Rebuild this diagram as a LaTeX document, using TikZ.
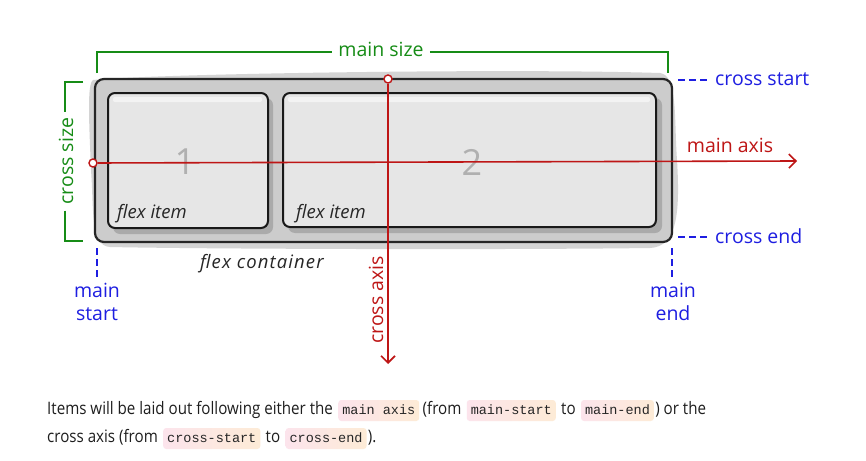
\documentclass[tikz,border=0pt]{standalone}
\usepackage{fontspec}
\setmainfont{Open Sans}
\newfontfamily\bodyfont[FakeStretch=0.88]{Open Sans}
\newfontfamily\widefont[LetterSpace=6]{Open Sans}
\newfontfamily\codefont{Liberation Mono}
\usetikzlibrary{arrows.meta,calc}
\definecolor{gr}{RGB}{22,140,22}
\definecolor{rd}{RGB}{190,22,22}
\definecolor{bl}{RGB}{30,30,225}
\definecolor{blobc}{RGB}{212,212,212}
\definecolor{contc}{RGB}{204,204,204}
\definecolor{itemc}{RGB}{230,230,230}
\definecolor{shadc}{RGB}{170,170,170}
\definecolor{numc}{RGB}{176,176,176}
\definecolor{chipA}{RGB}{252,228,236}
\definecolor{chipB}{RGB}{253,235,214}
\definecolor{txtc}{RGB}{30,30,30}
\begin{document}
\begin{tikzpicture}[x=1pt,y=-1pt,
  lbl/.style={font=\fontsize{19.5}{23}\selectfont, inner sep=1},
  ital/.style={font=\fontsize{18.5}{22}\selectfont\itshape, text=black!85, inner sep=0, anchor=base west},
  container/.style={draw=black!85, line width=2.2, fill=contc, rounded corners=9, minimum width=577, minimum height=163, inner sep=0},
  itembox/.style={draw=black!90, line width=2, fill=itemc, rounded corners=7, inner sep=0},
  numlbl/.style={font=\fontsize{36}{36}\selectfont, text=numc},
  circ/.style={circle, draw=rd, line width=1.4, fill=white, minimum size=8, inner sep=0},
  axis/.style={draw=rd, line width=1.6, -{Straight Barb[length=7,width=14,line width=1.6]}},
  bracket/.style={draw=gr, line width=1.6},
  bdash/.style={draw=bl, line width=1.5, dash pattern=on 7 off 4},
  body/.style={font=\bodyfont\fontsize{17.2}{20}\selectfont, text=txtc, inner sep=0, anchor=base west},
  chip/.style={font=\codefont\fontsize{13.5}{15}\selectfont, text=black!85, anchor=base west, inner xsep=4, inner ysep=4, text height=10, text depth=3, rounded corners=3, left color=chipA, right color=chipB}
]
\useasboundingbox[fill=white] (0,0) rectangle (866,460);

% sketchy background blob
\fill[blobc] (93,80) .. controls (150,74) and (500,68) .. (660,73)
  .. controls (678,75) and (674,120) .. (677,160)
  .. controls (680,210) and (678,247) .. (650,248)
  .. controls (500,250) and (200,249) .. (110,247)
  .. controls (90,246) and (94,210) .. (91,170)
  .. controls (89,120) and (87,84) .. (93,80) -- cycle;

% container
\node[container] (cont) at (383.5,160.5) {};

% item shadows
\fill[shadc, rounded corners=7] (113,98) rectangle (273,234);
\fill[shadc, rounded corners=7] (288,98) rectangle (662,233);

% items
\node[itembox, minimum width=160, minimum height=135] (it1) at (188,160.5) {};
\node[itembox, minimum width=373, minimum height=134] (it2) at (469.5,160) {};
\fill[white, opacity=0.55, rounded corners=2] (113,97) rectangle (262,102);
\fill[white, opacity=0.55, rounded corners=2] (288,97) rectangle (650,102);

\node[numlbl] (n1) at (185,162) {1};
\node[numlbl] (n2) at (472,162) {2};
\node[ital] (fi1) at (117,218) {flex item};
\node[ital] (fi2) at (296,218) {flex item};
\node[ital, font=\widefont\fontsize{18.5}{22}\selectfont\itshape] (fc) at (200,268) {flex container};

% main size bracket
\node[lbl, text=gr, inner xsep=6] (ms) at (381,49) {main size};
\draw[bracket] (97,73) -- (97,52) -- (ms.west |- 0,52);
\draw[bracket] (ms.east |- 0,52) -- (668,52) -- (668,73);

% cross size bracket
\node[lbl, text=gr, rotate=90, inner xsep=6] (cs) at (66,161) {cross size};
\draw[bracket] (83,82) -- (65,82) -- (65,0 |- cs.east);
\draw[bracket] (65,0 |- cs.west) -- (65,241) -- (83,241);

% axes
\node[circ] (o1) at (93,163) {};
\coordinate (maend) at (797,161);
\draw[axis] (o1) -- (maend);
\node[lbl, text=rd, anchor=base] (mal) at (730,152) {main axis};

\node[circ] (o2) at (388,79) {};
\coordinate (caend) at (388,364);
\draw[axis] (o2) -- (caend);
\node[lbl, text=rd, rotate=90] (cal) at (376,300) {cross axis};

% blue markers
\node[lbl, text=bl, anchor=west] (cst) at (714,79) {cross start};
\draw[bdash, shorten >=5] (678,80) -- (cst.west |- 0,80);
\node[lbl, text=bl, anchor=west] (cen) at (714,236) {cross end};
\draw[bdash, shorten >=5] (678,237) -- (cen.west |- 0,237);
\node[lbl, text=bl, align=center, anchor=north] (mst) at (97,282) {main\\start};
\draw[bdash, shorten >=4] (97,248) -- (mst.north);
\node[lbl, text=bl, align=center, anchor=north] (men) at (673,282) {main\\end};
\draw[bdash, shorten >=4] (672,248) -- (men.north -| 672,0);

% paragraph
\node[body] (t1) at (47,414) {Items will be laid out following either the};
\node[chip] (c1) at ($(t1.base east)+(5,0)$) {main axis};
\node[body] (t2) at ($(c1.base east)+(3,0)$) {(from};
\node[chip] (c2) at ($(t2.base east)+(5,0)$) {main-start};
\node[body] (t3) at ($(c2.base east)+(5,0)$) {to};
\node[chip] (c3) at ($(t3.base east)+(5,0)$) {main-end};
\node[body] (t4) at ($(c3.base east)+(1,0)$) {) or the};

\node[body] (u1) at (47,442) {cross axis (from};
\node[chip] (d1) at ($(u1.base east)+(5,0)$) {cross-start};
\node[body] (u2) at ($(d1.base east)+(5,0)$) {to};
\node[chip] (d2) at ($(u2.base east)+(5,0)$) {cross-end};
\node[body] (u3) at ($(d2.base east)+(1,0)$) {).};
\end{tikzpicture}
\end{document}
